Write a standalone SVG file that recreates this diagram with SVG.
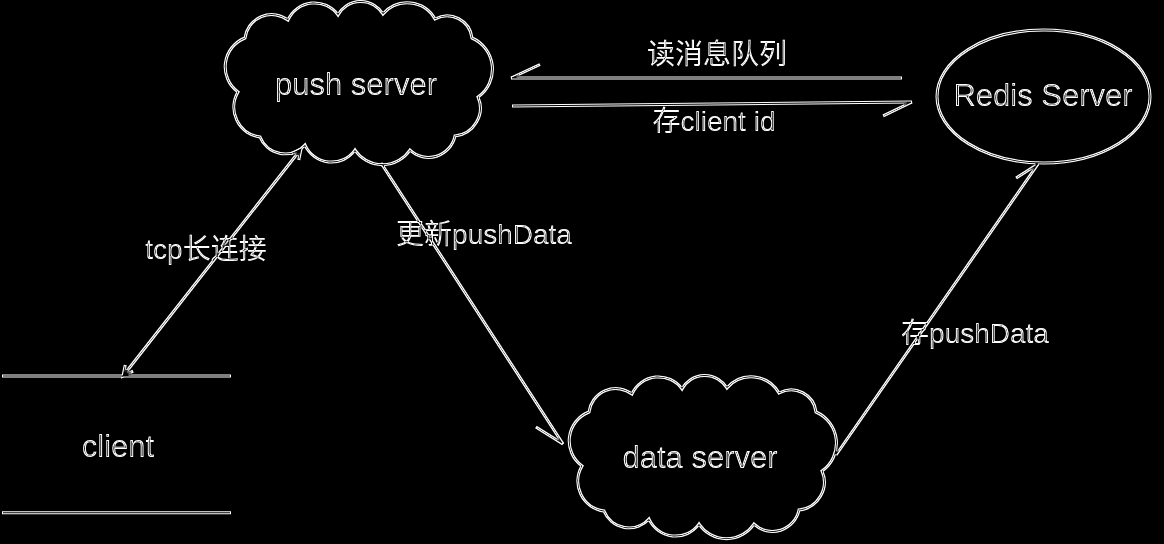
<svg xmlns="http://www.w3.org/2000/svg" xmlns:xlink="http://www.w3.org/1999/xlink" width="1164" height="544" viewBox="0 0 1164 544">
<style>
.ln{fill:none;stroke:#fff;stroke-width:3}
.mk{fill:none;stroke:#fff;stroke-width:3}
.nt{font-family:"Liberation Sans","Noto Sans",sans-serif;font-size:31px;fill:#fff;text-anchor:middle}
.lb{font-family:"Liberation Sans","Noto Sans CJK SC",sans-serif;font-size:28px;fill:#fff;text-anchor:middle}
</style>
<defs>
<filter id="edge" filterUnits="userSpaceOnUse" x="0" y="0" width="1164" height="544">
<feMorphology in="SourceAlpha" operator="erode" radius="1" result="e"/>
<feComposite in="SourceGraphic" in2="e" operator="out"/>
</filter>
<path id="cloud" d="M238,92 A31,31 0 0 1 245,38 A27,27 0 0 1 288,20 A29,29 0 0 1 338,15 A26,26 0 0 1 383,14 A32,32 0 0 1 435,19 A25,25 0 0 1 472,38 A34,34 0 0 1 478,97 A28,28 0 0 1 455,136 A27,27 0 0 1 410,150 A33,33 0 0 1 355,150 A29,29 0 0 1 305,145 A27,27 0 0 1 260,137 A30,30 0 0 1 238,92 Z"/>
<marker id="halfR" markerUnits="userSpaceOnUse" orient="auto" refX="0" refY="0" markerWidth="40" markerHeight="40" viewBox="-35 -20 40 40" overflow="visible">
<path class="mk" d="M-29,13.5 L0,0"/>
</marker>
<marker id="halfL" markerUnits="userSpaceOnUse" orient="auto" refX="0" refY="0" markerWidth="40" markerHeight="40" viewBox="-35 -20 40 40" overflow="visible">
<path class="mk" d="M-24,-10 L0,0"/>
</marker>
<marker id="vS" markerUnits="userSpaceOnUse" orient="auto-start-reverse" refX="0" refY="0" markerWidth="20" markerHeight="20" viewBox="-15 -10 20 20" overflow="visible">
<path class="mk" d="M-10,-5 L0,0 L-10,5"/>
</marker>
</defs>
<rect x="0" y="0" width="1164" height="544" fill="#000"/>
<g filter="url(#edge)">
<g id="push-server">
<use xlink:href="#cloud" href="#cloud" class="ln"/>
<text class="nt" x="356" y="95">push server</text>
</g>
<g id="redis-server">
<ellipse class="ln" cx="1043.5" cy="96.5" rx="106.5" ry="66.5"/>
<text class="nt" x="1043" y="106">Redis Server</text>
</g>
<g id="client">
<path class="ln" d="M2,376 H231 M2,512.7 H231"/>
<text class="nt" x="118" y="457">client</text>
</g>
<g id="data-server">
<use xlink:href="#cloud" href="#cloud" class="ln" transform="translate(344,374)"/>
<text class="nt" x="700" y="468">data server</text>
</g>
<g id="connectors">
<g id="e-read-queue">
<path class="ln" d="M902,78 L511,78" marker-end="url(#halfR)"/>
<text class="lb" x="717" y="64">读消息队列</text>
</g>
<g id="e-store-clientid">
<path class="ln" d="M512,106 L912,102" marker-end="url(#halfR)"/>
<text class="lb" x="714" y="131">存client id</text>
</g>
<g id="e-tcp">
<path class="ln" d="M301,149 L123,376" marker-start="url(#vS)" marker-end="url(#vS)"/>
<text class="lb" x="206" y="259">tcp长连接</text>
</g>
<g id="e-update-pushdata">
<path class="ln" d="M381,163 L563,444" marker-end="url(#halfR)"/>
<text class="lb" x="484" y="244">更新pushData</text>
</g>
<g id="e-store-pushdata">
<path class="ln" d="M836,455 L1038,164" marker-end="url(#halfL)"/>
<text class="lb" x="975" y="343">存pushData</text>
</g>
</g>
</g>
</svg>
